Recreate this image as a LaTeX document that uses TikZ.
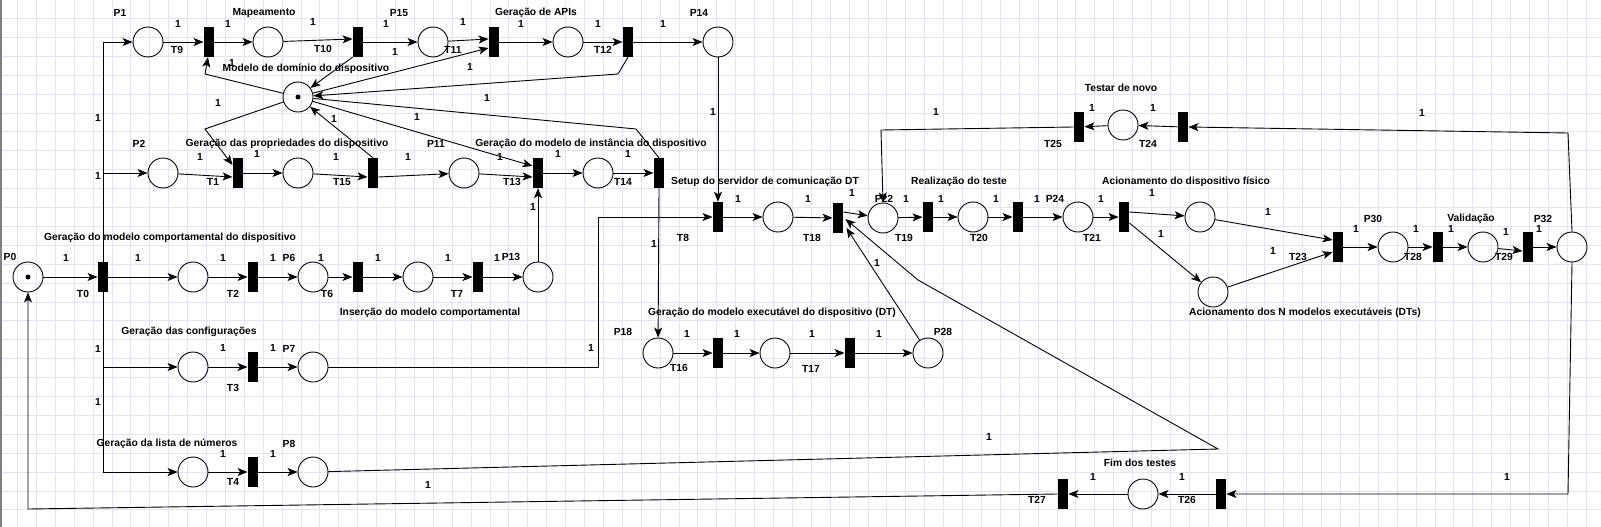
\documentclass[tikz,border=0pt]{standalone}
\usepackage{fontspec}
\setmainfont{Liberation Sans}
\usetikzlibrary{arrows.meta,calc}
\definecolor{gridc}{RGB}{228,228,240}
\tikzset{
  place/.style={circle,draw,line width=0.9pt,minimum size=30pt,inner sep=0pt},
  trans/.style={rectangle,fill=black,minimum width=10.5pt,minimum height=30pt,inner sep=0pt},
  parc/.style={line width=0.9pt,-{Stealth[length=10pt,width=8pt,inset=2.5pt]}},
  plin/.style={line width=0.9pt},
  lbl/.style={font=\bfseries\fontsize{10.3}{12}\selectfont,inner sep=0pt},
  wt/.style={lbl}
}
\begin{document}
\begin{tikzpicture}[x=1pt,y=-1pt]
\useasboundingbox (0,0) rectangle (1601,527);
\fill[white] (0,0) rectangle (1601,527);
\foreach \i in {0,...,83} {\draw[gridc,line width=0.6pt] (17.3+18.9*\i,0) -- (17.3+18.9*\i,527);}
\foreach \j in {0,...,27} {\draw[gridc,line width=0.6pt] (0,18.3+18.9*\j) -- (1601,18.3+18.9*\j);}
\draw[gray,line width=1.5pt] (1,0) -- (1,527);

% places
\node[place] (P0) at (28,277) {};
\node[place] (P1) at (148,42) {};
\node[place] (PMap) at (268,42) {};
\node[place] (P15) at (433,42) {};
\node[place] (PAPI) at (568,42) {};
\node[place] (P14) at (718,42) {};
\node[place] (MD) at (298,97) {};
\node[place] (P2) at (163,173) {};
\node[place] (PProp) at (298,173) {};
\node[place] (P11) at (464,173) {};
\node[place] (PInst) at (598,173) {};
\node[place] (PSetup) at (778,217) {};
\node[place] (P22) at (883,218) {};
\node[place] (PReal) at (973,217) {};
\node[place] (P24) at (1078,217) {};
\node[place] (AF) at (1200,217) {};
\node[place] (AN) at (1213,292) {};
\node[place] (P30) at (1393,247) {};
\node[place] (PVal) at (1483,247) {};
\node[place] (P32) at (1572,247) {};
\node[place] (PComp) at (193,277) {};
\node[place] (P6) at (313,277) {};
\node[place] (PIns) at (418,277) {};
\node[place] (P13) at (538,277) {};
\node[place] (PConf) at (193,367) {};
\node[place] (P7) at (313,367) {};
\node[place] (PList) at (193,472) {};
\node[place] (P8) at (313,472) {};
\node[place] (P18) at (658,353) {};
\node[place] (PExe) at (775,353) {};
\node[place] (P28) at (928,353) {};
\node[place] (PTest) at (1123,125) {};
\node[place] (PFim) at (1143,494) {};
\fill (P0) circle (2.5);
\fill (MD) circle (2.5);

% transitions
\node[trans] (T0) at (103,277) {};
\node[trans] (T9) at (209,42) {};
\node[trans] (T10) at (358,42) {};
\node[trans] (T11) at (494,42) {};
\node[trans] (T12) at (628,42) {};
\node[trans] (T1) at (238,173) {};
\node[trans] (T15) at (373,173) {};
\node[trans] (T13) at (538,173) {};
\node[trans] (T14) at (659,173) {};
\node[trans] (T8) at (718,217) {};
\node[trans] (T18) at (838,218) {};
\node[trans] (T19) at (928,217) {};
\node[trans] (T20) at (1018,217) {};
\node[trans] (T21) at (1124,217) {};
\node[trans] (T23) at (1338,247) {};
\node[trans] (T28) at (1438,247) {};
\node[trans] (T29) at (1528,247) {};
\node[trans] (T2) at (253,277) {};
\node[trans] (T6) at (358,277) {};
\node[trans] (T7) at (478,277) {};
\node[trans] (T3) at (253,367) {};
\node[trans] (T4) at (253,472) {};
\node[trans] (T16) at (718,353) {};
\node[trans] (T17) at (850,353) {};
\node[trans] (T24) at (1183,127) {};
\node[trans] (T25) at (1079,127) {};
\node[trans] (T26) at (1221,494) {};
\node[trans] (T27) at (1063,494) {};

% arcs
\draw[parc] (P0) -- (T0);
\draw[parc] (T0) -- (PComp);
\draw[parc] (T0.north) |- (P1);
\draw[parc] (T0.north) |- (P2);
\draw[parc] (T0.south) |- (PConf);
\draw[parc] (T0.south) |- (PList);
\draw[parc] (P1) -- (T9);
\draw[parc] (T9) -- (PMap);
\draw[parc] (PMap) -- ($(T10.west)+(0,-3)$);
\draw[parc] (T10) -- (P15);
\draw[parc] (P15) -- ($(T11.west)+(0,-3)$);
\draw[parc] (T11) -- (PAPI);
\draw[parc] (PAPI) -- (T12);
\draw[parc] (T12) -- (P14);
\draw[parc] (P2) -- ($(T1.west)+(0,4)$);
\draw[parc] (T1) -- (PProp);
\draw[parc] (PProp) -- ($(T15.west)+(0,4)$);
\draw[parc] ($(T15.east)+(0,4)$) -- (P11);
\draw[parc] (P11) -- ($(T13.west)+(0,4)$);
\draw[parc] (T13) -- (PInst);
\draw[parc] (PInst) -- (T14);
\draw[parc] (PComp) -- (T2);
\draw[parc] (T2) -- (P6);
\draw[parc] (P6) -- (T6);
\draw[parc] (T6) -- (PIns);
\draw[parc] (PIns) -- (T7);
\draw[parc] (T7) -- (P13);
\draw[parc] (PConf) -- (T3);
\draw[parc] (T3) -- (P7);
\draw[parc] (PList) -- (T4);
\draw[parc] (T4) -- (P8);
\draw[parc] (P18) -- (T16);
\draw[parc] (T16) -- (PExe);
\draw[parc] (PExe) -- (T17);
\draw[parc] (T17) -- (P28);
\draw[parc] (T8) -- (PSetup);
\draw[parc] (PSetup) -- (T18);
\draw[parc] ($(T18.east)+(0,-6)$) -- (P22);
\draw[parc] (P22) -- (T19);
\draw[parc] (T19) -- (PReal);
\draw[parc] (PReal) -- (T20);
\draw[parc] (T20) -- (P24);
\draw[parc] (P24) -- (T21);
\draw[parc] ($(T21.east)+(0,-5)$) -- (AF);
\draw[parc] ($(T21.east)+(0,6)$) -- (AN);
\draw[parc] (AF) -- ($(T23.west)+(0,-7)$);
\draw[parc] (AN) -- ($(T23.west)+(0,5)$);
\draw[parc] (T23) -- (P30);
\draw[parc] (P30) -- (T28);
\draw[parc] (T28) -- (PVal);
\draw[parc] (PVal) -- ($(T29.west)+(0,4)$);
\draw[parc] (T29) -- (P32);
\draw[parc] (P32.north) -- (1568,133) -- (T24.east);
\draw[parc] (T24) -- (PTest);
\draw[parc] (PTest) -- (T25);
\draw[parc] (T25.west) -- (881,130) -- (P22.north);
\draw[parc] (P32.south) -- (1568,494) -- (T26.east);
\draw[parc] (T26) -- (PFim);
\draw[parc] (PFim) -- (T27);
\draw[parc] (T27.west) -- (28,509) -- (P0.south);
\draw[parc] (P8) -- (1218,449) -- (918,280) -- ($(T18.east)+(2,1)$);
\draw[parc] (P28) -- ($(T18.east)+(3,10)$);
\draw[parc] (P7) -- (598,367) |- (T8.west);
\draw[parc] (P14) -- (T8.north);
\draw[parc] (T14.south) -- (P18);
\draw[parc] (P13) -- (T13.south);
% arcs of the domain-model place
\draw[parc] (MD) -- (205,74) -- ($(T9.south)+(-1,0)$);
\draw[parc] (T10.south west) -- (MD);
\draw[parc] (MD) -- ($(T11.west)+(0,6)$);
\draw[parc] (T12.south) -- (618,74) -- (MD);
\draw[plin] (MD) -- (636,129) -- (T14.north);
\draw[parc] (MD) -- ($(T13.west)+(0,-7)$);
\draw[parc] (T15.north) -- (MD);
\draw[parc] (MD) -- (205,129) -- ($(T1.west)+(0,-8)$);

% labels
\node[lbl] at (10,257) {P0};
\node[lbl] at (120,13) {P1};
\node[lbl] at (264,13) {Mapeamento};
\node[lbl] at (399,13) {P15};
\node[lbl] at (536,13) {Geração de APIs};
\node[lbl] at (699,13) {P14};
\node[lbl] at (306,69) {Modelo de domínio do dispositivo};
\node[lbl] at (177,50) {T9};
\node[lbl] at (323,49) {T10};
\node[lbl] at (453,50) {T11};
\node[lbl] at (603,50) {T12};
\node[lbl] at (139,144) {P2};
\node[lbl] at (287,144) {Geração das propriedades do dispositivo};
\node[lbl] at (436,144) {P11};
\node[lbl] at (591,144) {Geração do modelo de instância do dispositivo};
\node[lbl] at (213,182) {T1};
\node[lbl] at (342,182) {T15};
\node[lbl] at (512,182) {T13};
\node[lbl] at (623,182) {T14};
\node[lbl] at (765,182) {Setup do servidor de comunicação DT};
\node[lbl] at (959,182) {Realização do teste};
\node[lbl] at (1186,182) {Acionamento do dispositivo físico};
\node[lbl] at (1121,88) {Testar de novo};
\node[lbl] at (1053,144) {T25};
\node[lbl] at (1148,144) {T24};
\node[lbl] at (683,238) {T8};
\node[lbl] at (812,238) {T18};
\node[lbl] at (884,199) {P22};
\node[lbl] at (904,238) {T19};
\node[lbl] at (979,238) {T20};
\node[lbl] at (1055,199) {P24};
\node[lbl] at (1092,238) {T21};
\node[lbl] at (1373,219) {P30};
\node[lbl] at (1471,219) {Validação};
\node[lbl] at (1543,219) {P32};
\node[lbl] at (1298,257) {T23};
\node[lbl] at (1413,257) {T28};
\node[lbl] at (1504,257) {T29};
\node[lbl] at (1305,313) {Acionamento dos N modelos executáveis (DTs)};
\node[lbl] at (83,294) {T0};
\node[lbl] at (170,238) {Geração do modelo comportamental do dispositivo};
\node[lbl] at (233,294) {T2};
\node[lbl] at (289,258) {P6};
\node[lbl] at (327,294) {T6};
\node[lbl] at (457,294) {T7};
\node[lbl] at (511,257) {P13};
\node[lbl] at (430,313) {Inserção do modelo comportamental};
\node[lbl] at (189,332) {Geração das configurações};
\node[lbl] at (289,349) {P7};
\node[lbl] at (233,388) {T3};
\node[lbl] at (167,444) {Geração da lista de números};
\node[lbl] at (289,444) {P8};
\node[lbl] at (233,482) {T4};
\node[lbl] at (623,332) {P18};
\node[lbl] at (679,368) {T16};
\node[lbl] at (811,369) {T17};
\node[lbl] at (943,332) {P28};
\node[lbl] at (772,313) {Geração do modelo executável do dispositivo (DT)};
\node[lbl] at (1140,463) {Fim dos testes};
\node[lbl] at (1037,500) {T27};
\node[lbl] at (1187,500) {T26};

% weights
\foreach \p in {(178,24),(228,24),(313,22),(386,24),(463,22),(521,24),(598,24),(663,24),
(232,63),(395,52),(470,67),(487,98),(417,117),(218,103),(334,119),(500,157),
(98,118),(98,176),(98,349),(98,402),
(200,157),(257,154),(336,157),(408,157),(558,154),(628,154),
(66,258),(138,258),(223,258),(273,258),(321,258),(378,258),(448,258),(497,258),
(223,348),(273,348),(223,454),(273,454),
(533,207),(713,112),(654,244),(591,348),
(738,199),(808,199),(852,193),(906,199),(941,199),(996,199),(1037,199),(1101,199),(1152,193),(1161,234),
(1268,212),(1273,251),(1356,229),(1416,229),(1451,229),(1506,232),(1539,229),
(1422,113),(1153,108),(1092,108),(936,112),
(687,334),(737,334),(812,334),(879,334),
(877,263),(989,437),(428,485),(1507,477),(1182,477),(1093,477)}
  {\node[wt] at \p {1};}
\end{tikzpicture}
\end{document}
